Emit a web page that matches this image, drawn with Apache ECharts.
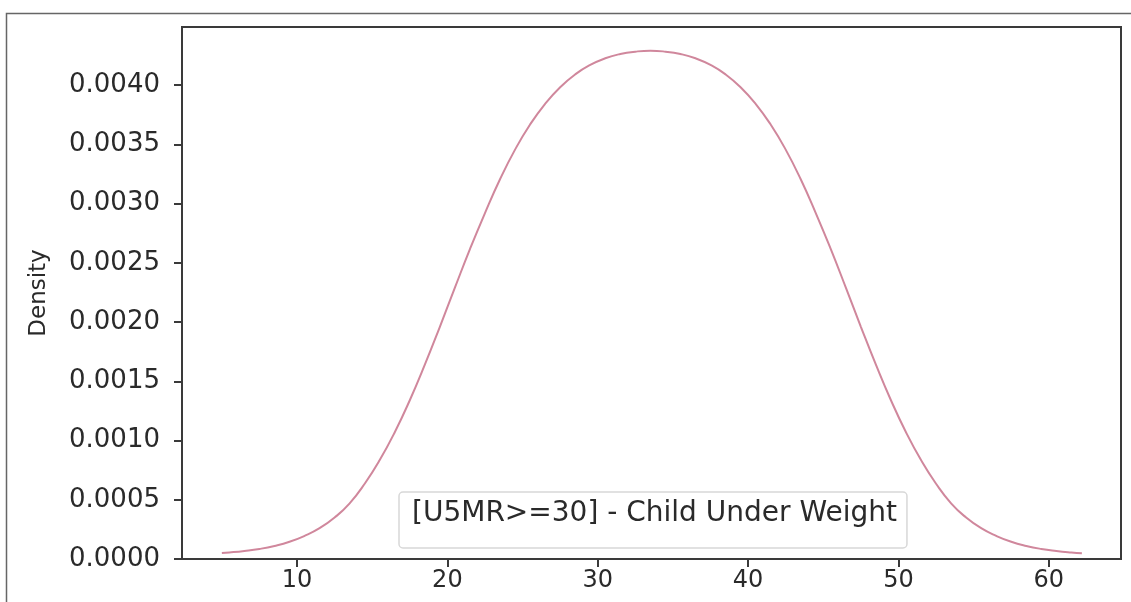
<!DOCTYPE html>
<html>
<head>
<meta charset="utf-8">
<script src="https://cdn.jsdelivr.net/npm/echarts@6/dist/echarts.min.js"></script>
<style>
html,body{margin:0;padding:0;background:#fff;}
#chart{width:1131px;height:602px;}
</style>
</head>
<body>
<div id="chart"></div>
<script>
// Data
const xValues = [5.0, 5.5, 6.5, 7.5, 8.5, 9.5, 10.5, 11.5, 12.5, 13.5, 14.5, 15.5, 16.5, 17.5, 18.5, 19.5, 20.5, 21.5, 22.5, 23.5, 24.5, 25.5, 26.5, 27.5, 28.5, 29.5, 30.5, 31.5, 32.5, 33.5, 34.5, 35.5, 36.5, 37.5, 38.5, 39.5, 40.5, 41.5, 42.5, 43.5, 44.5, 45.5, 46.5, 47.5, 48.5, 49.5, 50.5, 51.5, 52.5, 53.5, 54.5, 55.5, 56.5, 57.5, 58.5, 59.5, 60.5, 61.5, 62.2];
const densityValues = [0.00005, 0.000055, 0.000068, 0.000085, 0.00011, 0.000145, 0.000195, 0.00026, 0.00035, 0.00047, 0.000635, 0.000835, 0.00107, 0.00134, 0.00164, 0.00196, 0.00229, 0.002615, 0.00292, 0.003205, 0.003455, 0.003667, 0.003842, 0.003982, 0.00409, 0.00417, 0.004226, 0.004262, 0.004282, 0.00429, 0.004282, 0.004262, 0.004226, 0.00417, 0.00409, 0.003982, 0.003842, 0.003667, 0.003455, 0.003205, 0.00292, 0.002615, 0.00229, 0.00196, 0.00164, 0.00134, 0.00107, 0.000835, 0.000635, 0.00047, 0.00035, 0.00026, 0.000195, 0.000145, 0.00011, 0.000085, 0.000068, 0.000055, 0.000048];
const xTicks = [10, 20, 30, 40, 50, 60];
const yTicks = [0, 0.0005, 0.0010, 0.0015, 0.0020, 0.0025, 0.0030, 0.0035, 0.0040];
const seriesName = '[U5MR>=30] - Child Under Weight';
const yAxisTitle = 'Density';

const chart = echarts.init(document.getElementById('chart'));
const data = xValues.map((x, i) => [x, densityValues[i]]);
const axisColor = '#3a3a3a';
const textColor = '#2a2a2a';

chart.setOption({
  animation: false,
  backgroundColor: '#fff',
  graphic: [{
    type: 'rect', left: 4, top: 11, z: -1,
    shape: { width: 1200, height: 700 },
    style: { fill: 'none', stroke: '#666', lineWidth: 1.5 }
  }],
  grid: {
    left: 182, right: 10, top: 27, bottom: 43,
    show: true, borderColor: axisColor, borderWidth: 2, backgroundColor: '#fff'
  },
  legend: {
    show: true,
    left: 399, top: 492,
    icon: 'none', itemWidth: 0, itemHeight: 0, itemGap: 0,
    padding: [8, 10, 20, 8],
    backgroundColor: '#fff',
    borderColor: '#d8d8d8', borderWidth: 1.5, borderRadius: 4,
    textStyle: { fontFamily: 'DejaVu Sans', fontSize: 28, color: textColor, padding: 0 },
    data: [seriesName]
  },
  xAxis: {
    type: 'value', min: 2.35, max: 64.8,
    splitLine: { show: false },
    axisLine: { show: true, onZero: false, lineStyle: { color: axisColor, width: 2 } },
    axisTick: { show: true, customValues: xTicks, length: 8, lineStyle: { color: axisColor, width: 2 } },
    axisLabel: { customValues: xTicks, fontFamily: 'DejaVu Sans', fontSize: 24, color: textColor, margin: 10 }
  },
  yAxis: {
    type: 'value', min: 0, max: 0.00449,
    name: yAxisTitle, nameLocation: 'middle', nameGap: 131, nameRotate: 90,
    nameTextStyle: { fontFamily: 'DejaVu Sans', fontSize: 23, color: textColor },
    splitLine: { show: false },
    axisLine: { show: true, lineStyle: { color: axisColor, width: 2 } },
    axisTick: { show: true, customValues: yTicks, length: 8, lineStyle: { color: axisColor, width: 2 } },
    axisLabel: {
      customValues: yTicks, fontFamily: 'DejaVu Sans', fontSize: 26, color: textColor, margin: 22,
      formatter: v => v.toFixed(4)
    }
  },
  series: [{
    name: seriesName,
    type: 'line',
    data: data,
    smooth: true,
    showSymbol: false,
    lineStyle: { color: '#d0879c', width: 2 },
    itemStyle: { color: '#d0879c' }
  }]
});
</script>
</body>
</html>
